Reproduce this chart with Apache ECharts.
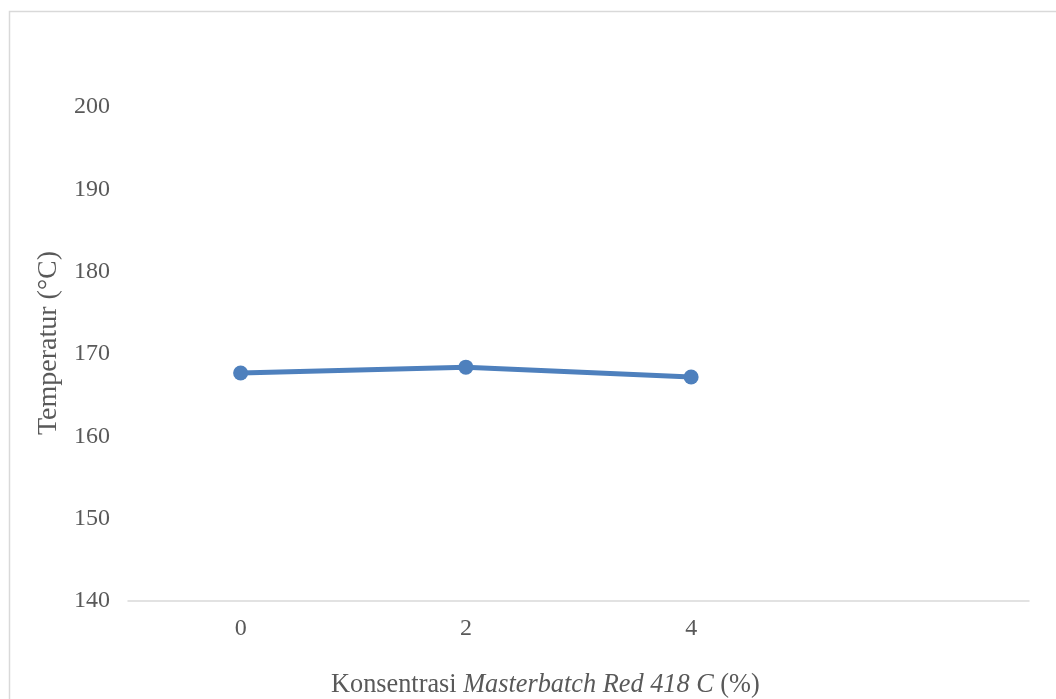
<!DOCTYPE html>
<html><head><meta charset="utf-8">
<script src="https://cdn.jsdelivr.net/npm/echarts@6/dist/echarts.min.js"></script>
<style>html,body{margin:0;padding:0;background:#fff}#c{width:1056px;height:699px}</style>
</head><body><div id="c"></div>
<script>
var categories = ['0', '2', '4', ''];
var temperature = [167.7, 168.4, 167.2, null];
var yTicks = {min: 140, max: 200, interval: 10};

var chart = echarts.init(document.getElementById('c'), null, {renderer: 'canvas'});
var font = '"Liberation Serif", "Times New Roman", serif';
chart.setOption({
  animation: false,
  backgroundColor: '#fff',
  graphic: [{
    type: 'rect', left: 7, top: 9, z: -1,
    shape: {width: 1100, height: 750},
    style: {fill: 'none', stroke: '#d9d9d9', lineWidth: 1.5}
  }],
  title: {
    text: 'Konsentrasi {i|Masterbatch Red 418 C} (%)',
    left: 326, top: 667,
    textStyle: {
      fontFamily: font, fontSize: 26.3, fontWeight: 'normal', color: '#595959',
      rich: {i: {fontFamily: font, fontSize: 26.3, fontStyle: 'italic', color: '#595959'}}
    }
  },
  grid: {left: 128, right: 27, top: 107, bottom: 98, containLabel: false},
  xAxis: {
    type: 'category', data: categories, boundaryGap: true,
    axisLine: {lineStyle: {color: '#d9d9d9', width: 1.5}},
    axisTick: {show: false},
    axisLabel: {fontFamily: font, fontSize: 24, color: '#595959', margin: 16}
  },
  yAxis: {
    type: 'value', min: yTicks.min, max: yTicks.max, interval: yTicks.interval,
    name: 'Temperatur (°C)', nameLocation: 'middle', nameGap: 64,
    nameTextStyle: {fontFamily: font, fontSize: 28, color: '#595959', padding: [0, 0, 0, 22]},
    axisLine: {show: false}, axisTick: {show: false}, splitLine: {show: false},
    axisLabel: {fontFamily: font, fontSize: 24, color: '#595959', margin: 18}
  },
  series: [{
    type: 'line', data: temperature,
    symbol: 'circle', symbolSize: 15,
    lineStyle: {color: '#4e80bd', width: 5},
    itemStyle: {color: '#4e80bd'}
  }]
});
</script></body></html>
